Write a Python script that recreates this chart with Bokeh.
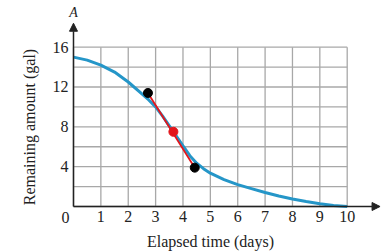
from bokeh.plotting import figure
from bokeh.models import Range1d, FixedTicker, Arrow, NormalHead
from bokeh.core.properties import value
from bokeh.embed import file_html
from bokeh.resources import INLINE

# data
curve_x = [0, 0.5, 1, 1.5, 2, 2.5, 2.75, 3, 3.25, 3.5, 3.75, 4, 4.25, 4.5, 4.75, 5,
           5.5, 6, 6.5, 7, 7.5, 8, 8.5, 9, 9.5, 10]
curve_y = [15.0, 14.7, 14.2, 13.5, 12.5, 11.3, 10.7, 10.0, 9.1, 8.1, 7.1, 6.1, 5.1, 4.35, 3.8, 3.35,
           2.7, 2.2, 1.8, 1.4, 1.05, 0.75, 0.5, 0.28, 0.1, 0.0]
secant_x = [2.72, 4.43]
secant_y = [11.4, 3.9]
mid_x = [3.65]
mid_y = [7.5]
x_ticks = [1, 2, 3, 4, 5, 6, 7, 8, 9, 10]
y_ticks = [4, 8, 12, 16]
grid_x = [0, 1, 2, 3, 4, 5, 6, 7, 8, 9, 10]
grid_y = [0, 2, 4, 6, 8, 10, 12, 14, 16]

FONT = "Liberation Serif"
INK = "#222222"

p = figure(width=381, height=252, output_backend="svg", toolbar_location=None,
           x_range=Range1d(-2.667, 11.253), y_range=Range1d(-4.618, 20.683),
           min_border_left=0, min_border_right=0, min_border_top=0, min_border_bottom=0)
p.outline_line_color = None
p.xgrid.visible = False
p.ygrid.visible = False

# grid
gc = "#a8a8a8"
p.segment(x0=grid_x, y0=[0]*len(grid_x), x1=grid_x, y1=[16]*len(grid_x), line_color=gc, line_width=1.3)
p.segment(x0=[0]*len(grid_y), y0=grid_y, x1=[10]*len(grid_y), y1=grid_y, line_color=gc, line_width=1.3)

# axes with arrows
p.add_layout(Arrow(end=NormalHead(size=8, fill_color=INK, line_color=INK),
                   x_start=0, y_start=0, x_end=11.2, y_end=0, line_color=INK, line_width=1.5))
p.add_layout(Arrow(end=NormalHead(size=8, fill_color=INK, line_color=INK),
                   x_start=0, y_start=0, x_end=0, y_end=18.4, line_color=INK, line_width=1.5))

# curve, secant, points
p.line(curve_x, curve_y, line_color="#2596c8", line_width=3)
p.line(secant_x, secant_y, line_color="#e3151b", line_width=1.8)
p.scatter(secant_x, secant_y, size=9, color="black")
p.scatter(mid_x, mid_y, size=9, color="#e3151b")

# labels
p.text(x=[0], y=[19.43], text=["A"], text_font=value(FONT), text_font_style="italic",
       text_font_size="14px", text_align="center", text_baseline="middle", text_color=INK)
p.text(x=[0], y=[0], text=["0"], text_font=value(FONT), text_font_size="16px",
       text_align="center", text_baseline="top", x_offset=-8, y_offset=5, text_color=INK)

for ax in (p.xaxis[0], p.yaxis[0]):
    ax.fixed_location = 0
    ax.axis_line_color = None
    ax.major_tick_line_color = None
    ax.minor_tick_line_color = None
    ax.major_tick_out = 0
    ax.major_tick_in = 0
    ax.minor_tick_out = 0
    ax.minor_tick_in = 0
    ax.major_label_text_font = FONT
    ax.major_label_text_font_size = "16px"
    ax.major_label_text_color = INK
    ax.axis_label_text_font = FONT
    ax.axis_label_text_font_size = "16px"
    ax.axis_label_text_font_style = "normal"
    ax.axis_label_text_color = INK

p.xaxis.ticker = FixedTicker(ticks=x_ticks)
p.yaxis.ticker = FixedTicker(ticks=y_ticks)
p.xaxis.bounds = (0, 10)
p.yaxis.bounds = (0, 16)
p.xaxis.major_label_standoff = 4
p.yaxis.major_label_standoff = 5
p.xaxis.axis_label = "Elapsed time (days)"
p.yaxis.axis_label = "Remaining amount (gal)"
p.xaxis.axis_label_standoff = 8
p.yaxis.axis_label_standoff = 12

open("out.html", "w").write(file_html(p, INLINE))
